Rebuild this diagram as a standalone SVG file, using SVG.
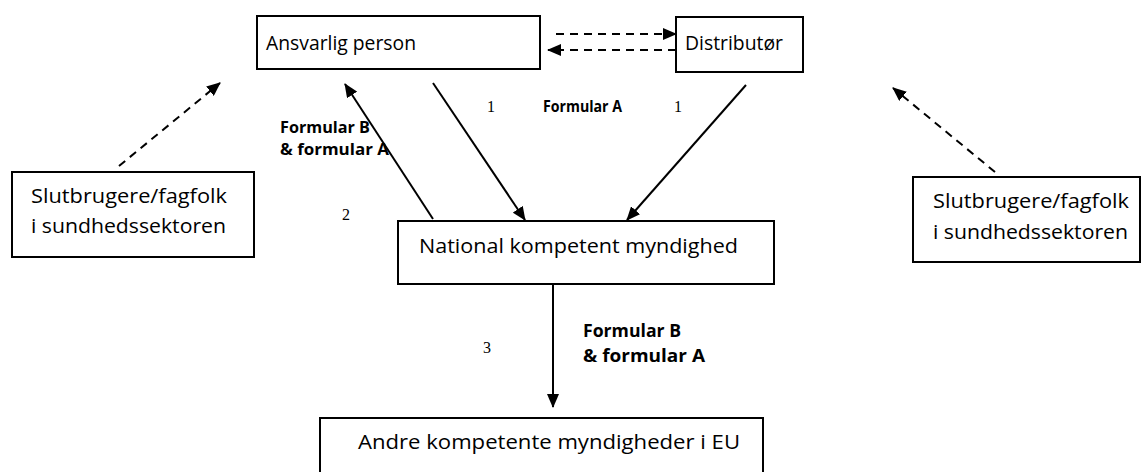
<svg xmlns="http://www.w3.org/2000/svg" width="1142" height="472" viewBox="0 0 1142 472">
<style>
.box{fill:#fff;stroke:#000;stroke-width:2}
.t{font-family:"Open Sans","Liberation Sans",sans-serif;font-size:20px;fill:#000}
.b{font-family:"Open Sans","Liberation Sans",sans-serif;font-size:16px;font-weight:bold;fill:#000}
.b2{font-family:"Open Sans","Liberation Sans",sans-serif;font-size:18px;font-weight:bold;fill:#000}
.n{font-family:"Liberation Serif",serif;font-size:16px;fill:#000}
.c{stroke:#000;stroke-width:2;fill:none}
.d{stroke:#000;stroke-width:2;fill:none;stroke-dasharray:8 6}
</style>
<defs>
<marker id="ah" markerWidth="14" markerHeight="12" refX="13" refY="6" orient="auto" markerUnits="userSpaceOnUse">
<path d="M0,0 L14,6 L0,12 Z" fill="#000"/>
</marker>
</defs>
<rect width="1142" height="472" fill="#fff"/>
<g id="connectors">
<line class="d" x1="556" y1="34" x2="676" y2="34" marker-end="url(#ah)"/>
<line class="d" x1="676" y1="50" x2="548" y2="50" marker-end="url(#ah)"/>
<line class="d" x1="119" y1="166" x2="220" y2="83" marker-end="url(#ah)"/>
<line class="d" x1="995" y1="172" x2="893" y2="88" marker-end="url(#ah)"/>
<line class="c" x1="433" y1="219" x2="345" y2="84" marker-end="url(#ah)"/>
<line class="c" x1="433" y1="83" x2="525" y2="220" marker-end="url(#ah)"/>
<line class="c" x1="746" y1="85" x2="627" y2="220" marker-end="url(#ah)"/>
<line class="c" x1="553" y1="284" x2="553" y2="407" marker-end="url(#ah)"/>
<text class="b" x="280" y="133" textLength="90" lengthAdjust="spacingAndGlyphs">Formular B</text>
<text class="b" x="280" y="155" textLength="109" lengthAdjust="spacingAndGlyphs">&amp; formular A</text>
<text class="n" x="342" y="220">2</text>
<text class="n" x="487" y="112">1</text>
<text class="b" x="543" y="112" textLength="79" lengthAdjust="spacingAndGlyphs">Formular A</text>
<text class="n" x="674" y="112">1</text>
<text class="n" x="483" y="353">3</text>
<text class="b2" x="583" y="337" textLength="98" lengthAdjust="spacingAndGlyphs">Formular B</text>
<text class="b2" x="583" y="362" textLength="122" lengthAdjust="spacingAndGlyphs">&amp; formular A</text>
</g>
<g id="ansvarlig">
<rect class="box" x="257" y="16" width="283" height="53"/>
<text class="t" x="266" y="50" textLength="150" lengthAdjust="spacingAndGlyphs">Ansvarlig person</text>
</g>
<g id="distributor">
<rect class="box" x="676" y="17" width="127" height="55"/>
<text class="t" x="685" y="50" textLength="98" lengthAdjust="spacingAndGlyphs">Distributør</text>
</g>
<g id="slut-left">
<rect class="box" x="12" y="172" width="242" height="85"/>
<text class="t" x="31" y="203" textLength="196" lengthAdjust="spacingAndGlyphs">Slutbrugere/fagfolk</text>
<text class="t" x="31" y="233" textLength="195" lengthAdjust="spacingAndGlyphs">i sundhedssektoren</text>
</g>
<g id="slut-right">
<rect class="box" x="913" y="177" width="227" height="85"/>
<text class="t" x="933" y="208" textLength="196" lengthAdjust="spacingAndGlyphs">Slutbrugere/fagfolk</text>
<text class="t" x="933" y="239" textLength="195" lengthAdjust="spacingAndGlyphs">i sundhedssektoren</text>
</g>
<g id="national">
<rect class="box" x="398" y="221" width="376" height="63"/>
<text class="t" x="419" y="253" textLength="319" lengthAdjust="spacingAndGlyphs">National kompetent myndighed</text>
</g>
<g id="andre">
<rect class="box" x="320" y="418" width="443" height="70"/>
<text class="t" x="358" y="449" textLength="382" lengthAdjust="spacingAndGlyphs">Andre kompetente myndigheder i EU</text>
</g>
</svg>
